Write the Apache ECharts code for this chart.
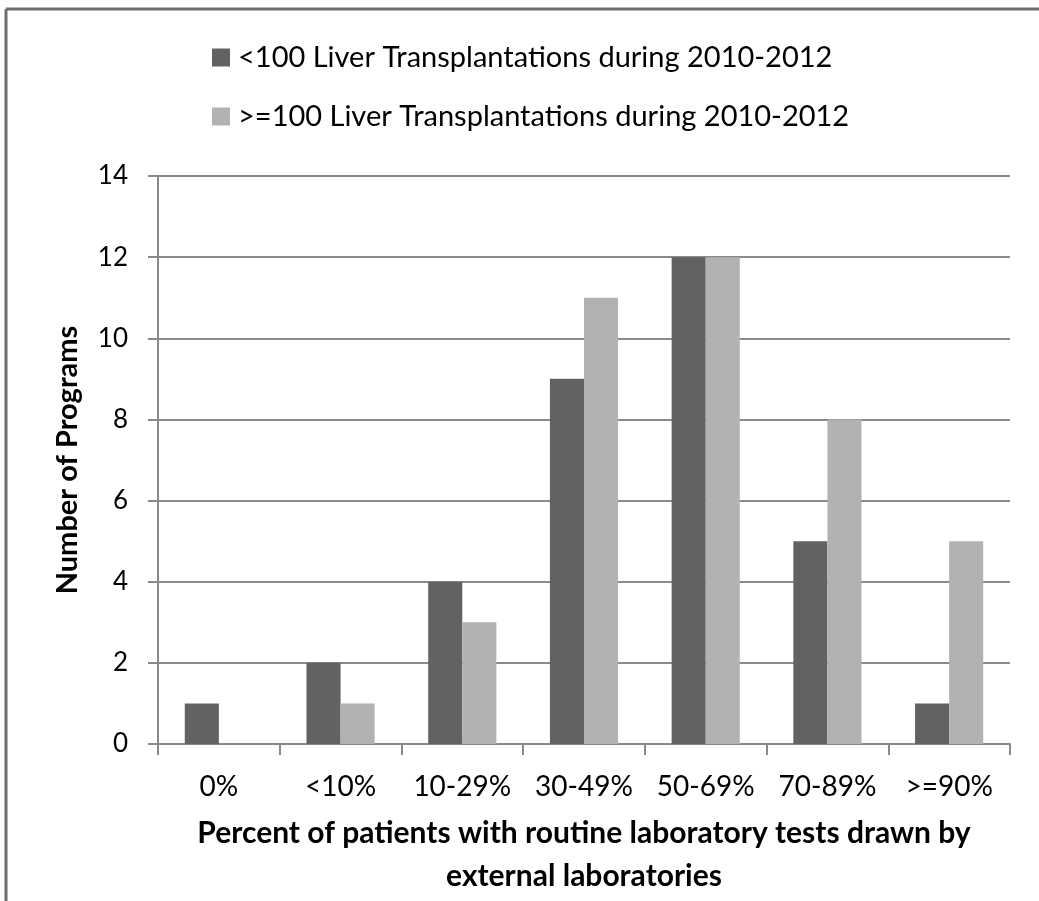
<!DOCTYPE html>
<html>
<head>
<meta charset="utf-8">
<script src="https://cdn.jsdelivr.net/npm/echarts@6/dist/echarts.min.js"></script>
<style>
html,body{margin:0;padding:0;background:#fff;}
#chart{width:1039px;height:901px;}
</style>
</head>
<body>
<div id="chart"></div>
<script>
const categories = ['0%', '<10%', '10-29%', '30-49%', '50-69%', '70-89%', '>=90%'];
const seriesNames = ['<100 Liver Transplantations during 2010-2012', '>=100 Liver Transplantations during 2010-2012'];
const under100 = [1, 2, 4, 9, 12, 5, 1];
const over100 = [0, 1, 3, 11, 12, 8, 5];
const yTicks = { min: 0, max: 14, interval: 2 };
const xAxisTitle = 'Percent of patients with routine laboratory tests drawn by\nexternal laboratories';
const yAxisTitle = 'Number of Programs';

const FONT = 'Lato, "Open Sans", "Liberation Sans", sans-serif';
const chart = echarts.init(document.getElementById('chart'), null, { renderer: 'canvas' });
const barStyle = (c) => ({ color: c });
chart.setOption({
  animation: false,
  backgroundColor: '#ffffff',
  textStyle: { fontFamily: FONT },
  graphic: [
    { type: 'line', shape: { x1: 6, y1: 9, x2: 1039, y2: 9 }, style: { stroke: '#6e6e6e', lineWidth: 3 }, z: 100 },
    { type: 'line', shape: { x1: 6, y1: 9, x2: 6, y2: 901 }, style: { stroke: '#6e6e6e', lineWidth: 3 }, z: 100 }
  ],
  legend: {
    orient: 'vertical',
    left: 207,
    top: 38,
    itemWidth: 18,
    itemHeight: 18,
    itemGap: 30,
    icon: 'rect',
    textStyle: { fontSize: 29, color: '#000', fontFamily: FONT, padding: [0, 0, 0, 3] },
    data: seriesNames
  },
  grid: { left: 158, right: 29, top: 176, bottom: 157, containLabel: false, outerBoundsMode: 'none' },
  xAxis: {
    type: 'category',
    data: categories,
    axisLine: { lineStyle: { color: '#8a8a8a', width: 2 } },
    axisTick: { show: true, length: 11, lineStyle: { color: '#8a8a8a', width: 2 } },
    axisLabel: { fontSize: 28, color: '#000', margin: 29, interval: 0, fontFamily: FONT },
    name: xAxisTitle,
    nameLocation: 'middle',
    nameGap: 68,
    nameMoveOverlap: false,
    nameTextStyle: { fontSize: 30, fontWeight: 'bold', color: '#000', lineHeight: 43, fontFamily: FONT }
  },
  yAxis: {
    type: 'value',
    min: yTicks.min,
    max: yTicks.max,
    interval: yTicks.interval,
    axisLine: { show: true, lineStyle: { color: '#8a8a8a', width: 2 } },
    axisTick: { show: true, length: 10, lineStyle: { color: '#8a8a8a', width: 2 } },
    splitLine: { show: true, lineStyle: { color: '#8a8a8a', width: 2 } },
    axisLabel: { fontSize: 26, color: '#000', margin: 30, fontFamily: FONT },
    name: yAxisTitle,
    nameLocation: 'middle',
    nameGap: 76,
    nameMoveOverlap: false,
    nameTextStyle: { fontSize: 29, fontWeight: 'bold', color: '#000', fontFamily: FONT }
  },
  series: [
    { name: seriesNames[0], type: 'bar', data: under100, barGap: '0%', barCategoryGap: '44%', itemStyle: barStyle('#626262') },
    { name: seriesNames[1], type: 'bar', data: over100, barGap: '0%', barCategoryGap: '44%', itemStyle: barStyle('#b2b2b2') }
  ]
});
</script>
</body>
</html>
